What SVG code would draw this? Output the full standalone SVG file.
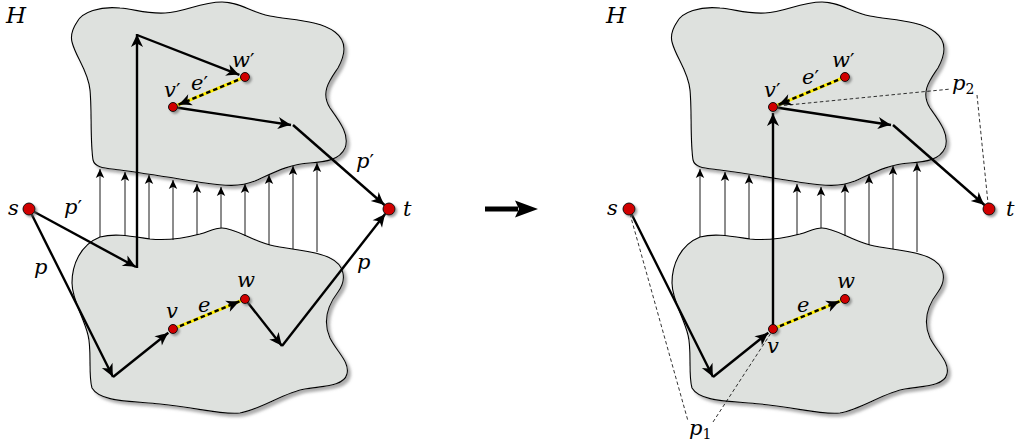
<svg xmlns="http://www.w3.org/2000/svg" xmlns:xlink="http://www.w3.org/1999/xlink" width="1018" height="447" viewBox="0 0 1018 447">
<defs>
<style>
.blob{fill:#dee1de;stroke:#000;stroke-width:1.1;filter:url(#sh)}
.thin{fill:none;stroke:#000;stroke-width:0.9;marker-end:url(#ah)}
.thick{fill:none;stroke:#000;stroke-width:2.4;marker-end:url(#AH)}
.yel{fill:none;stroke:#ffee00;stroke-width:3.2}
.dash{fill:none;stroke:#000;stroke-width:2.4;stroke-dasharray:4.5 3;marker-end:url(#AH)}
.aux{fill:none;stroke:#000;stroke-width:0.8;stroke-dasharray:3.5 2.5}
.node{fill:#d00000;stroke:#000;stroke-width:0.9;filter:url(#shn)}
text{font-family:'DejaVu Serif',serif;font-style:italic;font-size:21px;fill:#000}
.sub{font-style:normal;font-size:14px}
.pr{font-family:'DejaVu Sans',sans-serif;font-style:normal;font-size:20px}
</style>
<filter id="sh" x="-10%" y="-10%" width="130%" height="130%">
<feDropShadow dx="3" dy="3" stdDeviation="1.6" flood-color="#777" flood-opacity="0.6"/>
</filter>
<filter id="shn" x="-60%" y="-60%" width="250%" height="250%">
<feDropShadow dx="2" dy="2" stdDeviation="1.2" flood-color="#666" flood-opacity="0.6"/>
</filter>
<marker id="AH" markerUnits="userSpaceOnUse" viewBox="-14 -7 16 14" markerWidth="16" markerHeight="14" refX="0" refY="0" orient="auto" overflow="visible">
<path d="M0,0 C-4,-1.6 -9,-4 -13,-6 L-9.5,0 L-13,6 C-9,4 -4,1.6 0,0 Z" fill="#000"/>
</marker>
<marker id="ah" markerUnits="userSpaceOnUse" viewBox="-10 -5 11 10" markerWidth="11" markerHeight="10" refX="0" refY="0" orient="auto" overflow="visible">
<path d="M0,0 C-3,-1.3 -6,-3 -9,-4.2 L-6.8,0 L-9,4.2 C-6,3 -3,1.3 0,0 Z" fill="#000"/>
</marker>
<path id="ub" d="M77,22 C82,12 100,6 120,8 C135,9 145,14 165,13 C185,12 200,2 222,2 C240,2 250,12 270,16 C290,20 320,20 335,32 C348,42 345,55 338,68 C330,80 320,92 330,108 C340,122 350,135 345,148 C340,160 325,162 310,163 C290,164 275,172 255,181 C240,187 225,186 205,183 C185,180 150,174 120,170 C105,168 95,168 93,160 C90,140 92,110 90,90 C88,70 76,58 72,42 C70,34 73,28 77,22 Z"/>
<path id="lb" d="M100,237 C115,233 130,236 150,239 C170,241 185,238 200,234 C210,231 215,228 222,228 C235,228 250,240 270,245 C290,250 315,250 330,258 C345,265 347,280 338,292 C328,305 322,320 330,338 C337,352 350,362 347,374 C344,386 325,386 305,389 C285,392 260,410 240,413 C220,415 200,408 160,404 C130,401 100,402 92,388 C88,375 92,350 88,335 C84,318 72,300 72,283 C72,265 80,245 100,237 Z"/>
</defs>

<g id="left-H-upper"><use xlink:href="#ub" class="blob"/></g>
<g id="left-H-lower"><use xlink:href="#lb" class="blob"/></g>
<g id="right-H-upper"><use xlink:href="#ub" class="blob" transform="translate(600,0)"/></g>
<g id="right-H-lower"><use xlink:href="#lb" class="blob" transform="translate(600,0)"/></g>

<g id="connectors">
<path class="thin" d="M100,237V169"/>
<path class="thin" d="M125,236V172"/>
<path class="thin" d="M149,239V175"/>
<path class="thin" d="M173,240V180"/>
<path class="thin" d="M197,235V184"/>
<path class="thin" d="M221,228V187"/>
<path class="thin" d="M245,236V184"/>
<path class="thin" d="M269,245V175"/>
<path class="thin" d="M293,249V166"/>
<path class="thin" d="M317,252V163"/>

<path class="thin" d="M700,237V169"/>
<path class="thin" d="M725,236V172"/>
<path class="thin" d="M749,239V175"/>
<path class="thin" d="M797,235V184"/>
<path class="thin" d="M821,228V187"/>
<path class="thin" d="M845,236V184"/>
<path class="thin" d="M869,245V175"/>
<path class="thin" d="M893,249V166"/>
<path class="thin" d="M917,252V163"/>

<path class="thick" d="M29,209 L136,267"/>
<path class="thick" d="M137,268 L137,34"/>
<path class="thick" d="M137,35 L239.4,74.8"/>
<path class="thick" d="M173,107 L291,125"/>
<path class="thick" d="M293,125 L384.5,205"/>
<path class="thick" d="M29,209 L113,377"/>
<path class="thick" d="M113,377 L168.3,332.7"/>
<path class="thick" d="M245,299 L282,346"/>
<path class="thick" d="M282,346 L385.3,213.7"/>
<path class="yel" d="M245,77 L173,107"/>
<path class="dash" d="M245,77 L178.5,104.7"/>
<path class="yel" d="M173,329 L245,299"/>
<path class="dash" d="M173,329 L239.5,301.3"/>

<path class="thick" d="M629,209 L713,377"/>
<path class="thick" d="M713,377 L768.3,332.7"/>
<path class="thick" d="M773,329 L773,113"/>
<path class="thick" d="M773,107 L891,125"/>
<path class="thick" d="M893,125 L984.5,205"/>
<path class="yel" d="M773,329 L845,299"/>
<path class="dash" d="M773,329 L839.5,301.3"/>
<path class="yel" d="M845,77 L773,107"/>
<path class="dash" d="M845,77 L778.5,104.7"/>
<path class="aux" d="M630,214 L688,421 M713,422 L773,330"/>
<path class="aux" d="M778,106 L951,89 M977,95 L988,203"/>

<path d="M485,209 L518,209" stroke="#000" stroke-width="5" fill="none"/>
<path d="M538,209 L515,200.5 L519,209 L515,217.5 Z" fill="#000"/>
</g>

<g id="left-s"><circle class="node" cx="29" cy="209" r="6"/><text x="8" y="215">s</text></g>
<g id="left-t"><circle class="node" cx="389" cy="209" r="6"/><text x="403" y="216">t</text></g>
<g id="left-v"><circle class="node" cx="173" cy="329" r="4.5"/><text x="166" y="318">v</text></g>
<g id="left-w"><circle class="node" cx="245" cy="299" r="4.5"/><text x="237" y="287">w</text></g>
<g id="left-vp"><circle class="node" cx="173" cy="107" r="4.5"/><text x="164" y="97">v<tspan class="pr">′</tspan></text></g>
<g id="left-wp"><circle class="node" cx="245" cy="77" r="4.5"/><text x="232" y="67">w<tspan class="pr">′</tspan></text></g>

<g id="right-s"><circle class="node" cx="629" cy="209" r="6"/><text x="607" y="215">s</text></g>
<g id="right-t"><circle class="node" cx="989" cy="209" r="6"/><text x="1006" y="216">t</text></g>
<g id="right-v"><circle class="node" cx="773" cy="329" r="4.5"/><text x="767" y="353">v</text></g>
<g id="right-w"><circle class="node" cx="845" cy="299" r="4.5"/><text x="837" y="288">w</text></g>
<g id="right-vp"><circle class="node" cx="773" cy="107" r="4.5"/><text x="764" y="97">v<tspan class="pr">′</tspan></text></g>
<g id="right-wp"><circle class="node" cx="845" cy="77" r="4.5"/><text x="832" y="67">w<tspan class="pr">′</tspan></text></g>

<g id="labels">
<text x="6" y="23" style="font-size:23px">H</text>
<text x="606" y="23" style="font-size:23px">H</text>
<text x="64" y="214">p<tspan class="pr">′</tspan></text>
<text x="34" y="274">p</text>
<text x="357" y="269">p</text>
<text x="356" y="168">p<tspan class="pr">′</tspan></text>
<text x="198" y="312">e</text>
<text x="191" y="90">e<tspan class="pr">′</tspan></text>
<text x="797" y="312">e</text>
<text x="802" y="84">e<tspan class="pr">′</tspan></text>
<text x="952" y="90">p<tspan class="sub" dy="4">2</tspan></text>
<text x="689" y="435">p<tspan class="sub" dy="4">1</tspan></text>
</g>
</svg>
